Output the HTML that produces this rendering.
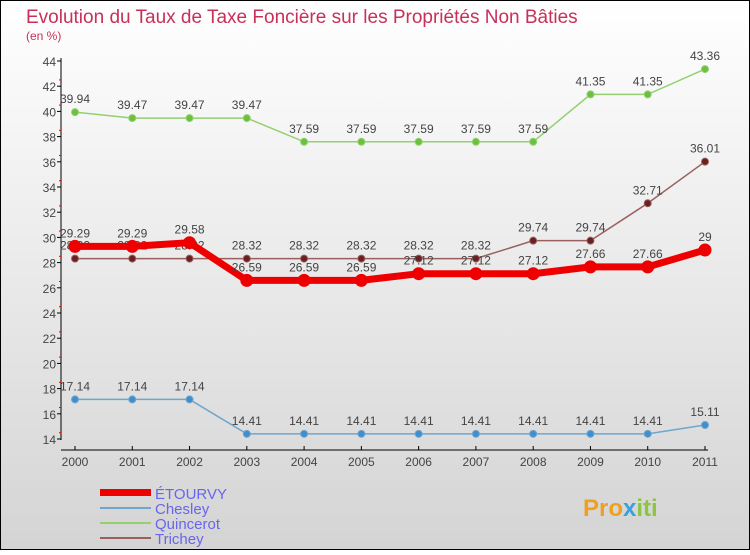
<!DOCTYPE html>
<html><head><meta charset="utf-8"><style>
body{margin:0}
#c{width:750px;height:550px;position:relative;font-family:"Liberation Sans",sans-serif}
svg text{font-family:"Liberation Sans",sans-serif}
</style></head><body>
<div id="c">
<svg id="s" width="750" height="550" xmlns="http://www.w3.org/2000/svg">
<defs><linearGradient id="bg" x1="0" y1="0" x2="0" y2="1"><stop offset="0" stop-color="#ffffff"/><stop offset="1" stop-color="#d4d4d4"/></linearGradient></defs>
<rect x="0.5" y="0.5" width="749" height="549" fill="url(#bg)" stroke="#000"/>
<text x="26" y="23" font-size="19" fill="#c8305a">Evolution du Taux de Taxe Foncière sur les Propriétés Non Bâties</text>
<text x="26" y="40" font-size="12" fill="#c8305a">(en %)</text>
<g id="axes"></g><g id="series"></g>
<g>
<rect x="100" y="489" width="51" height="7" fill="#e00"/>
<text x="155" y="499" font-size="15" fill="#6666ee">ÉTOURVY</text>
<rect x="100" y="507" width="51" height="2" fill="#6fa6cc"/>
<text x="155" y="514" font-size="15" fill="#6666ee">Chesley</text>
<rect x="100" y="522" width="51" height="2" fill="#94d070"/>
<text x="155" y="529" font-size="15" fill="#6666ee">Quincerot</text>
<rect x="100" y="537" width="51" height="2" fill="#9a6060"/>
<text x="155" y="544" font-size="15" fill="#6666ee">Trichey</text>
</g>
<text x="583" y="516" font-size="24" font-weight="bold" fill="#f0a020">Pro<tspan fill="#3aa0e0">x</tspan><tspan fill="#8cc63f">iti</tspan></text>
</svg></div>
<script>
const years=["2000","2001","2002","2003","2004","2005","2006","2007","2008","2009","2010","2011"];
const yTicks=[14,16,18,20,22,24,26,28,30,32,34,36,38,40,42,44];
const etourvy=[29.29,29.29,29.58,26.59,26.59,26.59,27.12,27.12,27.12,27.66,27.66,29];
const chesley=[17.14,17.14,17.14,14.41,14.41,14.41,14.41,14.41,14.41,14.41,14.41,15.11];
const quincerot=[39.94,39.47,39.47,39.47,37.59,37.59,37.59,37.59,37.59,41.35,41.35,43.36];
const trichey=[28.32,28.32,28.32,28.32,28.32,28.32,28.32,28.32,29.74,29.74,32.71,36.01];
const NS="http://www.w3.org/2000/svg";
const xs=i=>75+i*(630/11);
const ys=v=>439-(v-14)*12.6;
function mk(t,a,p){const e=document.createElementNS(NS,t);for(const k in a)e.setAttribute(k,a[k]);p.appendChild(e);return e;}
const ax=document.getElementById('axes');
let l=mk('line',{x1:61,y1:58,x2:61,y2:440,stroke:'#000'},ax);


l=mk('line',{x1:61,y1:450,x2:708,y2:450,stroke:'#000'},ax);


yTicks.forEach((v,k)=>{
  const y=ys(v);
  mk('line',{x1:57,y1:y,x2:61,y2:y,stroke:'#000'},ax);
  if(k<yTicks.length-1) mk('line',{x1:59,y1:y-6.3,x2:61,y2:y-6.3,stroke:'#e00'},ax);
  const t=mk('text',{x:56,y:y+5,'font-size':12,'text-anchor':'end',fill:'#444'},ax);
  t.textContent=v;
  
  
});
years.forEach((yr,i)=>{
  const x=xs(i);
  mk('line',{x1:x,y1:446,x2:x,y2:450,stroke:'#000'},ax);
  const t=mk('text',{x:x,y:466,'font-size':12,'text-anchor':'middle',fill:'#444'},ax);
  t.textContent=yr;
  
  
});
const sg=document.getElementById('series');
function draw(name,data,color,w,r,dot){
  const g=mk('g',{},sg);
  
  
  const pl=mk('polyline',{points:data.map((v,i)=>xs(i)+','+ys(v)).join(' '),fill:'none',stroke:color,'stroke-width':w},g);
  
  
  data.forEach((v,i)=>{
    const c=mk('circle',{cx:xs(i),cy:ys(v),r:r,fill:dot,stroke:color,'stroke-width':1},g);
    
    
    const t=mk('text',{x:xs(i),y:ys(v)-9,'font-size':12,'text-anchor':'middle',fill:'#444'},g);
    t.textContent=String(v);
    
    
  });
}
draw('chesley',chesley,'#6fa6cc',1.5,3.5,'#3f8fcf');
draw('quincerot',quincerot,'#94d070',1.5,3.5,'#6cc040');
draw('trichey',trichey,'#9a6060',1.5,3.5,'#6a2020');
draw('etourvy',etourvy,'#ee0000',7,6,'#ee0000');
</script>
</body></html>
